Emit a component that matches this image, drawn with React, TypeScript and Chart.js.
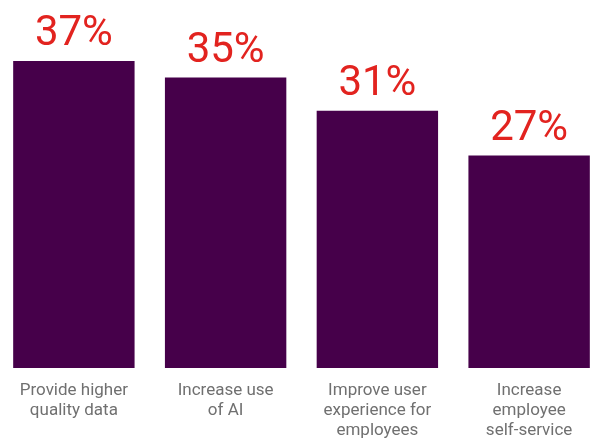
import React, { useEffect, useRef } from "react";
import { Chart, registerables } from "chart.js";

Chart.register(...registerables);

const categories: string[][] = [
  ["Provide higher", "quality data"],
  ["Increase use", "of AI"],
  ["Improve user", "experience for", "employees"],
  ["Increase", "employee", "self-service"],
];
const values: number[] = [37, 35, 31, 25.6];
const valueLabels: string[] = ["37%", "35%", "31%", "27%"];

const BAR_COLOR = "#46004A";
const LABEL_COLOR = "#E2231F";
const TICK_COLOR = "#707070";

const valueLabelPlugin = {
  id: "valueLabels",
  afterDatasetsDraw(chart: any) {
    const ctx = chart.ctx;
    const meta = chart.getDatasetMeta(0);
    ctx.save();
    ctx.fillStyle = LABEL_COLOR;
    ctx.font = "42px Roboto";
    ctx.textAlign = "center";
    ctx.textBaseline = "alphabetic";
    meta.data.forEach((bar: any, i: number) => {
      ctx.fillText(valueLabels[i], bar.x, bar.y - 16);
    });
    ctx.restore();
  },
};

export default function App() {
  const ref = useRef<HTMLCanvasElement | null>(null);
  useEffect(() => {
    if (!ref.current) return;
    const chart = new Chart(ref.current, {
      type: "bar",
      data: {
        labels: categories,
        datasets: [
          {
            data: values,
            backgroundColor: BAR_COLOR,
            borderWidth: 0,
            barPercentage: 0.8,
            categoryPercentage: 1,
          },
        ],
      },
      options: {
        animation: false,
        responsive: true,
        maintainAspectRatio: false,
        layout: { padding: { top: 36, bottom: 0, left: 0, right: 0 } },
        plugins: {
          legend: { display: false },
          tooltip: { enabled: false },
        },
        scales: {
          x: {
            grid: { display: false, drawTicks: false },
            border: { display: false },
            ticks: {
              color: TICK_COLOR,
              font: { family: "Roboto", size: 17, lineHeight: 20 / 17 },
              padding: 13,
              maxRotation: 0,
              autoSkip: false,
            },
            afterFit: (scale: any) => {
              scale.height = 71;
            },
          },
          y: {
            display: false,
            min: 0,
            max: 40,
          },
        },
      },
      plugins: [valueLabelPlugin],
    });
    return () => chart.destroy();
  }, []);
  return (
    <div
      style={{
        position: "fixed",
        left: 0,
        top: 0,
        width: 593,
        height: 439,
        overflow: "hidden",
        background: "#fff",
      }}
    >
      <div style={{ position: "absolute", left: -2, top: 0, width: 607, height: 439 }}>
        <canvas ref={ref} />
      </div>
    </div>
  );
}
